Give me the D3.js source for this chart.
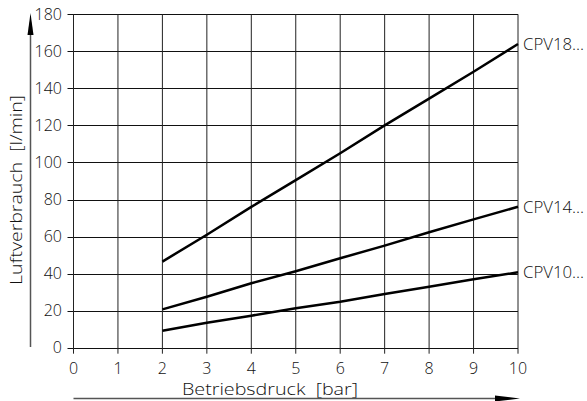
<!DOCTYPE html>
<html>
<head>
<meta charset="utf-8">
<script src="https://cdn.jsdelivr.net/npm/d3@7"></script>
<style>
  html, body { margin: 0; padding: 0; background: #fff; }
  svg { display: block; }
  text { font-family: "Open Sans", "Noto Sans", sans-serif; font-weight: 300; fill: #111; }
</style>
</head>
<body>
<svg id="chart" width="587" height="401"></svg>
<script>
// ---- data ----
const pressure = [2, 3, 4, 5, 6, 7, 8, 9, 10];
const cpv18 = [46.5, 61, 76, 90.5, 105, 120, 134.5, 149, 164];
const cpv14 = [20.7, 27.5, 34.8, 41.3, 48.3, 55.1, 62.3, 69.3, 76.1];
const cpv10 = [9.2, 13.5, 17.3, 21.3, 24.8, 29, 32.9, 36.9, 40.7];
const seriesNames = ["CPV18...", "CPV14...", "CPV10..."];
const xTicks = [0, 1, 2, 3, 4, 5, 6, 7, 8, 9, 10];
const yTicks = [0, 20, 40, 60, 80, 100, 120, 140, 160, 180];
const xTitle = "Betriebsdruck\u00a0\u00a0[bar]";
const yTitle = "Luftverbrauch\u00a0\u00a0[l/min]";

const series = [cpv18, cpv14, cpv10].map((vals, i) => ({
  name: seriesNames[i],
  points: pressure.map((p, j) => ({ x: p, y: vals[j] }))
}));

const svg = d3.select("#chart");
const x = d3.scaleLinear().domain([0, 10]).range([73.5, 518]);
const y = d3.scaleLinear().domain([0, 180]).range([347.7, 14.3]);

// horizontal grid lines (extend left as tick marks)
svg.append("g").selectAll("line").data(yTicks).join("line")
  .attr("x1", x(0) - 6).attr("x2", x(10))
  .attr("y1", d => Math.round(y(d)) + 0.5).attr("y2", d => Math.round(y(d)) + 0.5)
  .attr("stroke", "#111").attr("stroke-width", 1);

// vertical grid lines (extend below as tick marks)
svg.append("g").selectAll("line").data(xTicks).join("line")
  .attr("x1", d => x(d)).attr("x2", d => x(d))
  .attr("y1", y(180)).attr("y2", y(0) + 6)
  .attr("stroke", "#222").attr("stroke-width", 1);

// y tick labels
svg.append("g").selectAll("text").data(yTicks).join("text")
  .attr("x", 62).attr("y", d => y(d))
  .attr("dy", "0.36em")
  .attr("text-anchor", "end")
  .style("font-size", "16px")
  .text(d => d);

// x tick labels
svg.append("g").selectAll("text").data(xTicks).join("text")
  .attr("x", d => x(d)).attr("y", 368)
  .attr("dy", "0.36em")
  .attr("text-anchor", "middle")
  .style("font-size", "16px")
  .text(d => d);

// series lines
const line = d3.line().x(d => x(d.x)).y(d => y(d.y));
svg.append("g").selectAll("path").data(series).join("path")
  .attr("d", d => line(d.points))
  .attr("fill", "none").attr("stroke", "#000").attr("stroke-width", 2.5)
  .attr("stroke-linejoin", "round");

// series labels
svg.append("g").selectAll("text").data(series).join("text")
  .attr("x", x(10) + 5)
  .attr("y", d => y(d.points[d.points.length - 1].y))
  .attr("dy", "0.36em")
  .attr("textLength", 61).attr("lengthAdjust", "spacingAndGlyphs")
  .style("font-size", "16px")
  .text(d => d.name);

// y axis arrow
svg.append("line")
  .attr("x1", 30.5).attr("x2", 30.5).attr("y1", 30).attr("y2", 347)
  .attr("stroke", "#555").attr("stroke-width", 1.5);
svg.append("path")
  .attr("d", `M30.5,13 L33.5,35 L27.5,35 Z`)
  .attr("fill", "#000");

// x axis arrow
svg.append("line")
  .attr("x1", x(0)).attr("x2", 500).attr("y1", 398.5).attr("y2", 398.5)
  .attr("stroke", "#555").attr("stroke-width", 1.5);
svg.append("path")
  .attr("d", `M520,398.5 L495,395.5 L495,401.5 Z`)
  .attr("fill", "#000");

// axis titles
svg.append("text")
  .attr("x", 182).attr("y", 395)
  .attr("textLength", 176).attr("lengthAdjust", "spacingAndGlyphs")
  .style("font-size", "17px")
  .text(xTitle);

svg.append("text")
  .attr("transform", "translate(22,285) rotate(-90)")
  .attr("textLength", 190).attr("lengthAdjust", "spacingAndGlyphs")
  .style("font-size", "17px")
  .text(yTitle);
</script>
</body>
</html>
